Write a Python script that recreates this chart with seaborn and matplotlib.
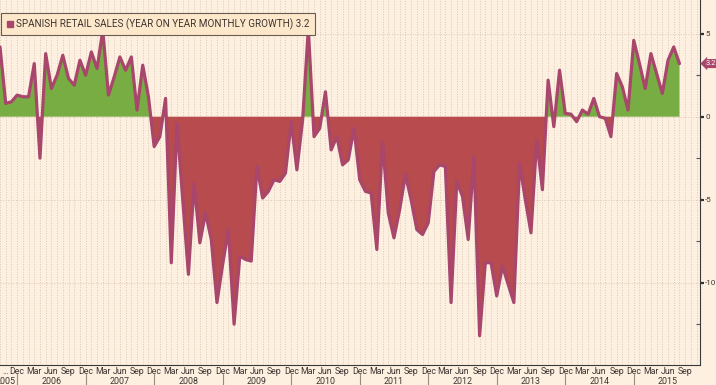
import numpy as np
import pandas as pd
import matplotlib
matplotlib.use("Agg")
import matplotlib.pyplot as plt
from matplotlib.lines import Line2D
import seaborn as sns

# Spanish retail sales, year on year, monthly, Sep 2005 .. Aug 2015
start_month = "2005-09-01"
growth = [
    4.2, 0.8, 0.9, 1.3,                                              # 2005 Sep-Dec
    1.2, 1.2, 3.2, -2.5, 3.8, 1.7, 2.5, 3.7, 2.3, 1.9, 3.4, 2.5,     # 2006
    3.9, 2.9, 5.2, 1.3, 2.4, 3.6, 2.8, 3.6, 0.4, 3.1, 1.2, -1.8,     # 2007
    -1.2, 1.1, -8.8, -0.4, -5.0, -9.5, -4.0, -7.6, -5.8, -7.4, -11.2, -8.9,  # 2008
    -6.8, -12.5, -8.4, -8.6, -8.7, -3.0, -4.9, -4.5, -3.8, -3.9, -3.4, -0.3,  # 2009
    -3.2, -0.2, 5.3, -1.2, -0.7, 1.5, -2.0, -1.2, -2.9, -2.6, -0.7, -3.8,    # 2010
    -4.5, -4.6, -8.0, -1.5, -5.8, -7.3, -5.6, -3.5, -5.0, -6.8, -7.1, -6.4,  # 2011
    -3.3, -2.9, -3.0, -11.2, -3.9, -4.8, -7.4, -2.4, -13.2, -8.8, -8.8, -10.8,  # 2012
    -9.0, -10.1, -11.2, -2.8, -5.0, -7.0, -1.4, -4.4, 2.2, -0.6, 2.8, 0.2,   # 2013
    0.15, -0.3, 0.4, 0.15, 1.1, 0.0, -0.1, -1.2, 2.6, 1.8, 0.4, 4.6,        # 2014
    3.2, 1.7, 3.8, 2.6, 1.4, 3.4, 4.2, 3.2,                                 # 2015 Jan-Aug
]
series_name = "SPANISH RETAIL SALES (YEAR ON YEAR MONTHLY GROWTH)"
last_label = "3.2"
y_major = [-10, -5, 0, 5]
y_minor = [-12.5, -7.5, -2.5, 2.5]
years = list(range(2005, 2016))

bg = "#fdf0e1"
line_c = "#a8466c"
red = "#b84b4d"
green = "#77ad42"
txt_c = "#3d3530"
grid_c = "#dcc9b4"

sns.set_style("white")
plt.rcParams["font.family"] = ["Roboto", "DejaVu Sans"]
plt.rcParams["axes.unicode_minus"] = False

g = np.array(growth)
x = np.arange(len(g))
df = pd.DataFrame({"i": x, "growth": g})
# label positions run a few months past the data
lab_dates = pd.date_range(start_month, periods=len(g) + 3, freq="MS")

fig = plt.figure(figsize=(7.16, 3.85), dpi=100)
fig.patch.set_facecolor(bg)
ax = fig.add_axes([0, 20 / 385, 700 / 716, 365 / 385])
ax.set_facecolor(bg)

ax.fill_between(x, g, 0, where=g >= 0, interpolate=True, color=green, lw=0, zorder=2)
ax.fill_between(x, g, 0, where=g <= 0, interpolate=True, color=red, lw=0, zorder=2)
sns.lineplot(data=df, x="i", y="growth", ax=ax, color=line_c, lw=2.3, zorder=3)

ax.set_xlim(0.45, 122.6)
ax.set_ylim(-14.96, 7.03)

# grid
ax.set_xticks([])
ax.set_xticks(np.arange(0, 123), minor=True)
ax.set_yticks(y_major)
ax.set_yticks(y_minor, minor=True)
ax.grid(which="minor", axis="x", ls=":", color=grid_c, lw=0.7, zorder=0)
ax.grid(which="major", axis="y", ls=":", color=grid_c, lw=0.7, zorder=0)

ax.yaxis.tick_right()
ax.tick_params(axis="y", which="major", direction="out", length=2.8, width=1.6,
               colors="#333333", labelsize=5.8, pad=0.8, labelcolor=txt_c)
ax.tick_params(axis="y", which="minor", direction="in", length=3, width=0.8, colors="#555555")
ax.tick_params(axis="x", which="minor", direction="in", length=2, width=0.6, colors="#555555")
ax.set_xlabel("")
ax.set_ylabel("")
for s in ["left", "top"]:
    ax.spines[s].set_visible(False)
for s in ["right", "bottom"]:
    ax.spines[s].set_color("#3a3a3a")
    ax.spines[s].set_linewidth(0.8)

# legend box
h = Line2D([], [], marker="s", ls="", color=line_c, markersize=4.5)
leg = ax.legend([h], [series_name + " " + last_label], loc="upper left",
                bbox_to_anchor=(0.0015, 0.965), fancybox=False, framealpha=1,
                facecolor="#fde8cc", edgecolor="#6a5a50", borderpad=0.55,
                handletextpad=0.25, handlelength=0.7, borderaxespad=0,
                prop={"size": 7.1})
leg.get_frame().set_linewidth(0.8)
for t in leg.get_texts():
    t.set_color(txt_c)

# last value tag on the right axis
ax.text(1.0075, g[-1], last_label, transform=ax.get_yaxis_transform(), color="white",
        fontsize=5.4, va="center", ha="left", clip_on=False,
        bbox=dict(boxstyle="larrow,pad=0.14", fc=line_c, ec="none"))

# month / year labels under the axis
xt = ax.get_xaxis_transform()
for i, d in enumerate(lab_dates):
    if i > 122:
        break
    if d.month in (3, 6, 9, 12):
        s = d.strftime("%b")
        xi = i
        if i == 0:
            s, xi = "...", 1.0
        ax.text(xi, -0.019, s, transform=xt, ha="center", va="center",
                fontsize=6.3, color=txt_c, clip_on=False)
for y in years:
    ci = 12 * (y - 2006) + 9
    if y == 2005:
        ci = 1.03
    ax.text(ci, -0.044, str(y), transform=xt, ha="center", va="center",
            fontsize=6.4, color=txt_c, clip_on=False)
for n in range(10):
    ax.plot([3 + 12 * n] * 2, [-0.025, -0.06], transform=xt, color="#9a8a80",
            lw=0.8, clip_on=False)

fig.savefig("out.png", dpi=100, facecolor=bg)
